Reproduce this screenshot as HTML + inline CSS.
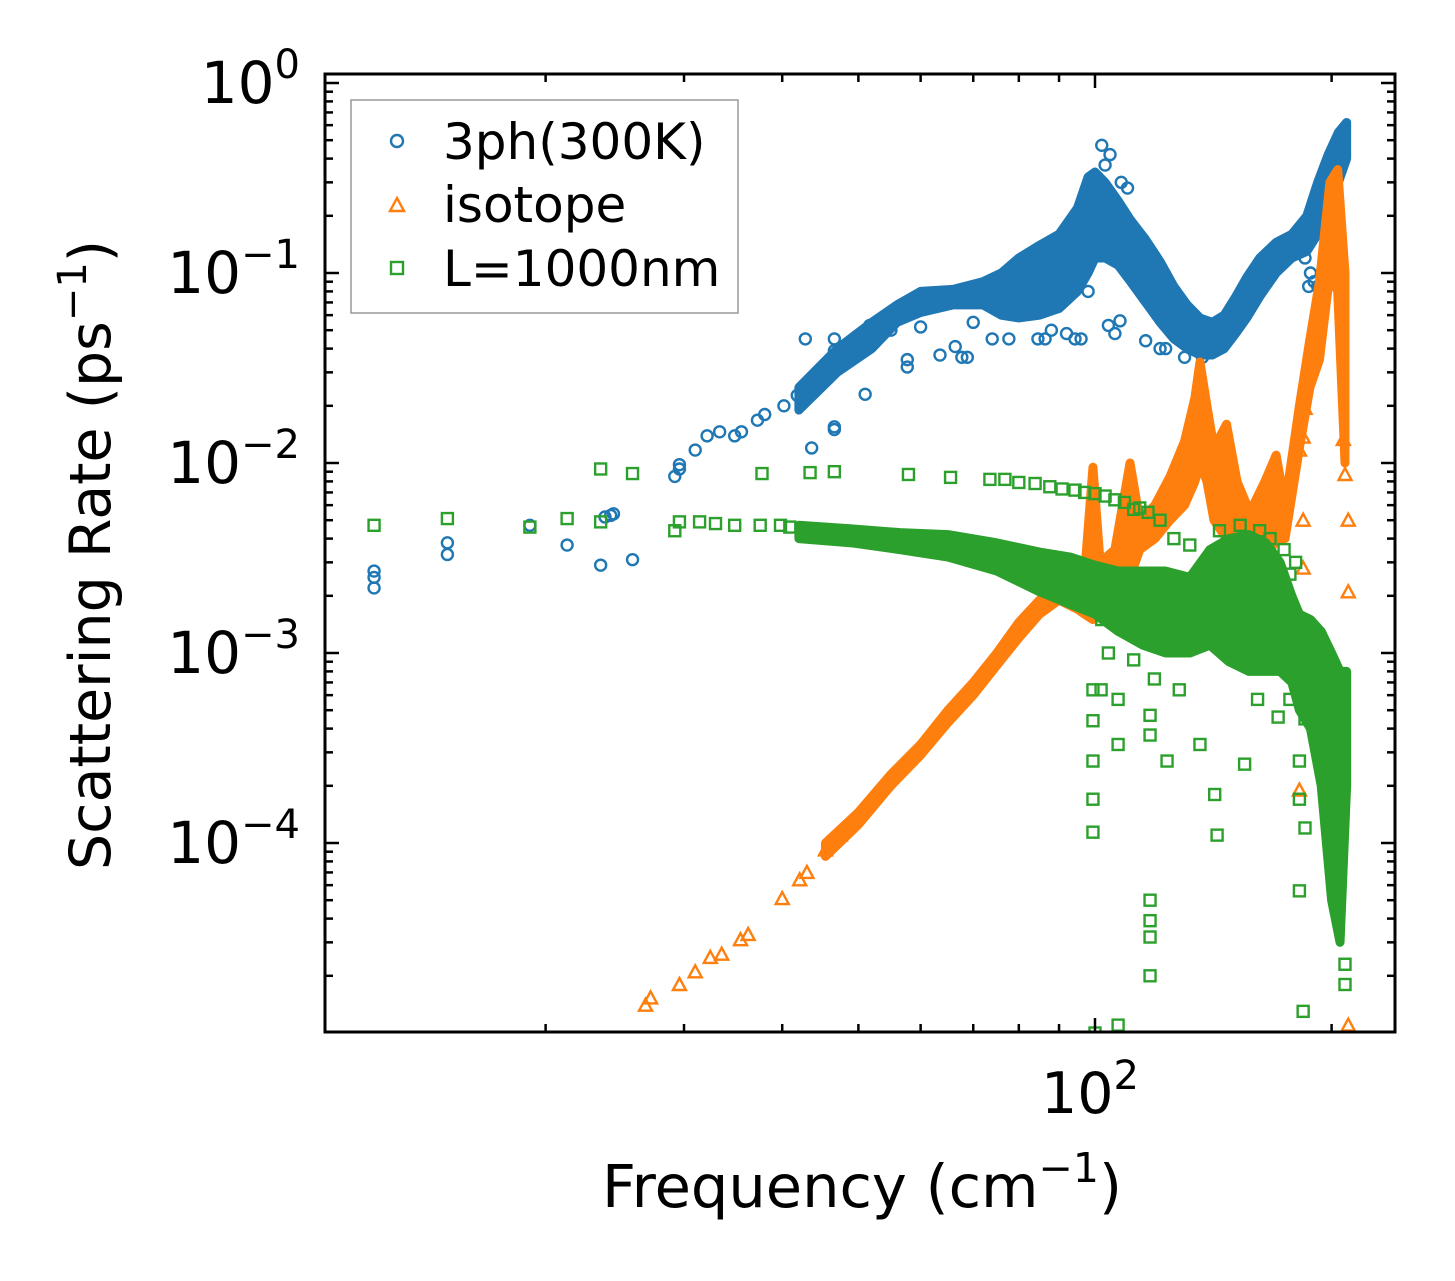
<!DOCTYPE html>
<html><head><meta charset="utf-8"><style>
html,body{margin:0;padding:0;background:#fff;}
svg{display:block;font-family:"DejaVu Sans","Liberation Sans",sans-serif;}
</style></head><body>
<svg id="chart" width="1455" height="1281" viewBox="0 0 1455 1281" xmlns="http://www.w3.org/2000/svg">
<defs><clipPath id="plotclip"><rect x="325" y="74" width="1070" height="958"/></clipPath></defs>
<rect x="0" y="0" width="1455" height="1281" fill="#fff"/>
<g id="marks" clip-path="url(#plotclip)"></g>
<g id="ticks"></g>
<rect x="325" y="74" width="1070" height="958" fill="none" stroke="#000" stroke-width="3"/>
<g id="ylabels" font-size="58" text-anchor="end"></g>
<text x="1090" y="1113" font-size="57" text-anchor="middle">10<tspan dy="-24" font-size="40">2</tspan></text>
<text transform="translate(110,555) rotate(-90)" font-size="57" text-anchor="middle">Scattering Rate (ps<tspan dy="-24" font-size="40">−1</tspan><tspan dy="24">)</tspan></text>
<text x="862" y="1207" font-size="59" text-anchor="middle">Frequency (cm<tspan dy="-25" font-size="41">−1</tspan><tspan dy="25">)</tspan></text>
<g>
<rect x="351" y="100" width="387" height="213" fill="#fff" fill-opacity="0.8" stroke="#999" stroke-width="1.5"/>
<circle cx="397" cy="141" r="6" fill="none" stroke="#1f77b4" stroke-width="2.4"/>
<text x="443" y="159" font-size="50">3ph(300K)</text>
<polygon points="397,198 404,211 390,211" fill="none" stroke="#ff7f0e" stroke-width="2.4"/>
<text x="443" y="222" font-size="50">isotope</text>
<rect x="391" y="262" width="12" height="12" fill="none" stroke="#2ca02c" stroke-width="2.4"/>
<text x="443" y="286" font-size="50">L=1000nm</text>
</g>
</svg>
<script>
// ---------- data ----------
const yTickExps = [0,-1,-2,-3,-4];
const xMinorTicks = [20,30,40,50,60,70,80,90,200];
const xMajorTicks = [100];

// 3ph(300K): dense envelope + sparse points
const blueBandFreq = [42,47,52,56,60,66,72,76,80,85,90,95,98,100,103,107,111,116,121,126,131,136,141,146,151,156,162,170,178,186,192,198,204,209];
const blueBandLo   = [0.019,0.030,0.040,0.055,0.062,0.068,0.068,0.060,0.058,0.060,0.065,0.08,0.10,0.12,0.12,0.11,0.09,0.07,0.055,0.045,0.040,0.037,0.037,0.040,0.048,0.058,0.075,0.10,0.12,0.13,0.16,0.22,0.30,0.40];
const blueBandHi   = [0.025,0.040,0.055,0.068,0.080,0.082,0.090,0.10,0.12,0.14,0.16,0.22,0.32,0.34,0.30,0.24,0.19,0.15,0.115,0.085,0.068,0.058,0.055,0.060,0.075,0.095,0.12,0.145,0.16,0.20,0.30,0.42,0.55,0.62];
const blueFreq = [12.1,12.1,12.1,15,15,19.1,21.3,23.5,23.8,24.2,24.4,25.8,29.2,29.6,29.6,31.0,32.1,33.3,34.8,35.5,37.2,38,40.2,41.8,42.8,43.6,44.7,45.5,46.6,46.6,43.6,46.6,46.6,51,51.7,57.7,57.7,63.5,66.4,68.8,67.7,74,77.7,84.6,86.4,94.3,96,104,106,107.6,116,121,123,130,137,102,104.5,103,108,110,185,188,190,192,187,42.8,55,60,70,88,92,98];
const blueRate = [0.0022,0.0025,0.0027,0.0033,0.0038,0.0047,0.0037,0.0029,0.0052,0.0053,0.0054,0.0031,0.0085,0.0098,0.0093,0.0117,0.0139,0.0146,0.0139,0.0146,0.0168,0.018,0.020,0.0227,0.0247,0.028,0.0305,0.033,0.039,0.045,0.012,0.015,0.0155,0.023,0.053,0.032,0.035,0.037,0.041,0.036,0.036,0.045,0.045,0.045,0.045,0.045,0.045,0.053,0.048,0.056,0.044,0.040,0.040,0.036,0.036,0.47,0.42,0.37,0.30,0.28,0.12,0.10,0.09,0.085,0.085,0.045,0.05,0.052,0.055,0.05,0.048,0.08];

// isotope: dense envelope + sparse points
const orangeBandFreq = [45.4,50,55,60,65,70,75,80,85,90,95,97,99.4,101.5,106,110.8,114,119.2,124.6,130,134,136,138.8,141.7,147,151.6,157.4,164.5,170,174.5,182,187.7,193,199,203.6,208];
const orangeBandLo   = [8.5e-5,1.25e-4,2.0e-4,2.9e-4,4.3e-4,6.0e-4,8.6e-4,1.2e-3,1.6e-3,1.9e-3,1.7e-3,1.6e-3,1.5e-3,1.8e-3,2.5e-3,2.5e-3,3.5e-3,4.0e-3,5.0e-3,6.0e-3,8.0e-3,1.0e-2,8.0e-3,5.0e-3,4.0e-3,3.5e-3,2.8e-3,3.0e-3,4.0e-3,4.0e-3,1.2e-2,2.5e-2,3.5e-2,0.10,0.08,0.01];
const orangeBandHi   = [1.0e-4,1.45e-4,2.3e-4,3.3e-4,5.0e-4,7.0e-4,1.0e-3,1.45e-3,1.9e-3,2.4e-3,2.6e-3,2.6e-3,9.5e-3,3.0e-3,3.5e-3,1.0e-2,5.0e-3,6.0e-3,8.5e-3,1.3e-2,2.2e-2,3.4e-2,2.0e-2,1.2e-2,1.6e-2,8.0e-3,5.5e-3,8.0e-3,1.1e-2,6.0e-3,2.0e-2,4.5e-2,9.0e-2,0.30,0.35,0.10];
const orangeFreq = [26.8,27.2,29.6,31.0,32.4,33.5,35.4,36.2,40,42.1,43,45.4,47.4,182,184,185,207,208,210,210,210,184,184,177,182];
const orangeRate = [1.4e-5,1.53e-5,1.8e-5,2.1e-5,2.5e-5,2.6e-5,3.1e-5,3.3e-5,5.1e-5,6.4e-5,7.0e-5,9.2e-5,1.1e-4,0.0117,0.0137,0.0194,0.0133,0.0087,0.005,0.0021,1.1e-5,0.005,0.0028,0.0017,1.9e-4];

// L=1000nm: dense envelope + sparse points
const greenBandFreq = [42,49,56.5,65,75,85,93,100,107,115,123,132,140,148,157,165,172,178,182,188,194,200,205,209];
const greenBandLo   = [0.0040,0.0038,0.0035,0.0032,0.0027,0.0021,0.0018,0.0016,0.0013,0.0011,0.0010,0.0010,0.0011,0.0009,0.0008,0.0008,0.0008,0.0007,0.0005,0.0004,0.0002,0.00005,0.00003,0.0002];
const greenBandHi   = [0.0047,0.0045,0.0043,0.0042,0.0038,0.0034,0.0032,0.0029,0.0027,0.0027,0.0027,0.0025,0.0035,0.0040,0.0042,0.0038,0.0030,0.0020,0.0016,0.0015,0.0013,0.0010,0.0008,0.0008];
const greenFreq = [12.1,15,19.1,21.3,23.5,29.2,29.6,31.4,32.9,34.8,37.5,39.8,40.9,23.5,25.8,37.7,43.4,46.6,57.9,65.5,73.5,76.8,80,83.9,87.6,90.8,94.3,97,100,103,106,109,114,116.8,121,99.4,99.4,99.4,99.4,99.4,101.8,107,107,117.5,117.5,117.5,117.5,117.5,117.5,123.5,136,142,143,155,171,182,184,107,100,208,208,157,161,172,128,119,112,104,102,177,185,182,182,185,112,126,132,144,153,162,167,174,177,180];
const greenRate = [0.0047,0.0051,0.0046,0.0051,0.0049,0.0044,0.0049,0.0049,0.0048,0.0047,0.0047,0.0047,0.0046,0.0093,0.0088,0.0088,0.0089,0.009,0.0087,0.0084,0.0082,0.0082,0.0079,0.0078,0.0075,0.0073,0.0072,0.007,0.0069,0.0067,0.0064,0.0062,0.0058,0.0055,0.005,6.4e-4,4.4e-4,2.7e-4,1.7e-4,1.14e-4,6.4e-4,5.7e-4,3.3e-4,4.7e-4,3.7e-4,5.0e-5,3.9e-5,3.2e-5,2.0e-5,2.7e-4,3.3e-4,1.8e-4,1.1e-4,2.6e-4,4.6e-4,5.6e-5,1.3e-5,1.1e-5,1.0e-5,2.3e-5,1.8e-5,8.6e-4,5.7e-4,1.2e-3,6.4e-4,7.3e-4,9.2e-4,1.0e-3,1.5e-3,5.7e-4,4.5e-4,2.7e-4,1.7e-4,1.2e-4,0.0057,0.004,0.0037,0.0044,0.0047,0.0044,0.004,0.0035,0.0026,0.003];

// ---------- axes ----------
const X = f => 1095 + 786 * (Math.log10(f) - 2);
const Y = r => 83 - 190 * Math.log10(r);
const NS = 'http://www.w3.org/2000/svg';
const marks = document.getElementById('marks');
const ticks = document.getElementById('ticks');

function line(g, x1, y1, x2, y2, name) {
  const l = document.createElementNS(NS, 'line');
  l.setAttribute('x1', x1); l.setAttribute('y1', y1); l.setAttribute('x2', x2); l.setAttribute('y2', y2);
  l.setAttribute('stroke', '#000'); l.setAttribute('stroke-width', '2.5');
  
  
  g.appendChild(l);
}
for (let e = 0; e >= -5; e--) {
  for (let m = 1; m <= 9; m++) {
    const y = Y(m * Math.pow(10, e));
    if (y < 74 || y > 1032) continue;
    const len = m === 1 ? 14 : 8;
    line(ticks, 325, y, 325 + len, y, 'y-tick');
    line(ticks, 1395, y, 1395 - len, y, 'y-tick-right');
  }
}
xMinorTicks.forEach(f => {
  const x = X(f);
  line(ticks, x, 1032, x, 1024, 'x-minor-tick');
  line(ticks, x, 74, x, 82, 'x-minor-tick-top');
});
xMajorTicks.forEach(f => {
  const x = X(f);
  line(ticks, x, 1032, x, 1018, 'x-major-tick');
  line(ticks, x, 74, x, 88, 'x-major-tick-top');
});
const yl = document.getElementById('ylabels');
yTickExps.forEach(e => {
  const t = document.createElementNS(NS, 'text');
  t.setAttribute('x', 300);
  t.setAttribute('y', Y(Math.pow(10, e)) + 20);
  
  
  const sup = e === 0 ? '0' : '−' + (-e);
  t.innerHTML = '10<tspan dy="-25" font-size="40">' + sup + '</tspan>';
  yl.appendChild(t);
});

// ---------- marks ----------
function band(freq, lo, hi, color, name) {
  const pts = [];
  for (let i = 0; i < freq.length; i++) pts.push(X(freq[i]) + ',' + Y(hi[i]));
  for (let i = freq.length - 1; i >= 0; i--) pts.push(X(freq[i]) + ',' + Y(lo[i]));
  const p = document.createElementNS(NS, 'polygon');
  p.setAttribute('points', pts.join(' '));
  p.setAttribute('fill', color); p.setAttribute('stroke', color);
  p.setAttribute('stroke-width', '9'); p.setAttribute('stroke-linejoin', 'round');
  
  
  marks.appendChild(p);
}
function circles(freq, rate, color) {
  for (let i = 0; i < freq.length; i++) {
    const c = document.createElementNS(NS, 'circle');
    c.setAttribute('cx', X(freq[i])); c.setAttribute('cy', Y(rate[i])); c.setAttribute('r', 5.5);
    c.setAttribute('fill', 'none'); c.setAttribute('stroke', color); c.setAttribute('stroke-width', '2.4');
    
    
    marks.appendChild(c);
  }
}
function triangles(freq, rate, color) {
  for (let i = 0; i < freq.length; i++) {
    const x = X(freq[i]), y = Y(rate[i]);
    const p = document.createElementNS(NS, 'polygon');
    p.setAttribute('points', x + ',' + (y - 6.5) + ' ' + (x + 6.5) + ',' + (y + 5.5) + ' ' + (x - 6.5) + ',' + (y + 5.5));
    p.setAttribute('fill', 'none'); p.setAttribute('stroke', color); p.setAttribute('stroke-width', '2.4');
    
    
    marks.appendChild(p);
  }
}
function squares(freq, rate, color) {
  for (let i = 0; i < freq.length; i++) {
    const r = document.createElementNS(NS, 'rect');
    r.setAttribute('x', X(freq[i]) - 5.5); r.setAttribute('y', Y(rate[i]) - 5.5);
    r.setAttribute('width', 11); r.setAttribute('height', 11);
    r.setAttribute('fill', 'none'); r.setAttribute('stroke', color); r.setAttribute('stroke-width', '2.4');
    
    
    marks.appendChild(r);
  }
}
band(blueBandFreq, blueBandLo, blueBandHi, '#1f77b4', 'band-3ph');
circles(blueFreq, blueRate, '#1f77b4');
band(orangeBandFreq, orangeBandLo, orangeBandHi, '#ff7f0e', 'band-isotope');
triangles(orangeFreq, orangeRate, '#ff7f0e');
band(greenBandFreq, greenBandLo, greenBandHi, '#2ca02c', 'band-boundary');
squares(greenFreq, greenRate, '#2ca02c');
</script>
</body></html>
